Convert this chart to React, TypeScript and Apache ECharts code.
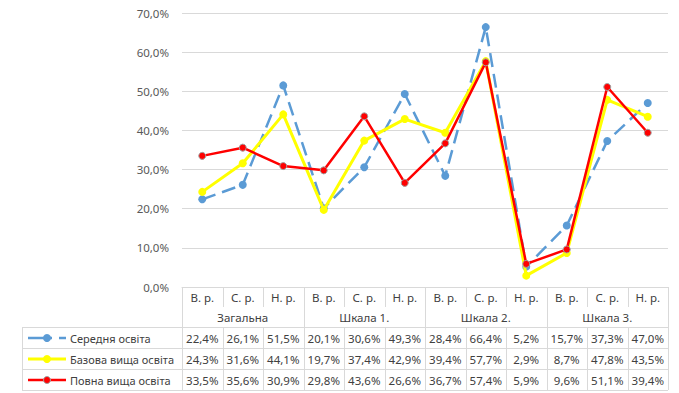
import React, { useEffect, useRef } from "react";
import * as echarts from "echarts";

const categories = ["В. р.", "С. р.", "Н. р.", "В. р.", "С. р.", "Н. р.", "В. р.", "С. р.", "Н. р.", "В. р.", "С. р.", "Н. р."];
const groups = ["Загальна", "Шкала 1.", "Шкала 2.", "Шкала 3."];
const seriesNames = ["Середня освіта", "Базова вища освіта", "Повна вища освіта"];
const serednia = [22.4, 26.1, 51.5, 20.1, 30.6, 49.3, 28.4, 66.4, 5.2, 15.7, 37.3, 47.0];
const bazova = [24.3, 31.6, 44.1, 19.7, 37.4, 42.9, 39.4, 57.7, 2.9, 8.7, 47.8, 43.5];
const povna = [33.5, 35.6, 30.9, 29.8, 43.6, 26.6, 36.7, 57.4, 5.9, 9.6, 51.1, 39.4];
const yTicks = { min: 0, max: 70, interval: 10 };

const fmt = (v: number) => v.toFixed(1).replace(".", ",") + "%";

const FONT = "'Noto Sans'";
const GRID_COLOR = "#d9d9d9";
const TEXT_COLOR = "#404040";

export default function App() {
  const ref = useRef<HTMLDivElement>(null);
  useEffect(() => {
    if (!ref.current) return;
    const chart = echarts.init(ref.current, undefined, { renderer: "svg" });
    const gridTop = 13;
    const gridBottom = 106;
    const gridLeft = 182;
    const gridRight = 11;
    chart.setOption({
      animation: false,
      grid: { left: gridLeft, right: gridRight, top: gridTop, bottom: gridBottom, containLabel: false },
      xAxis: {
        type: "category",
        data: categories.map((c, i) => i),
        boundaryGap: true,
        axisLine: { show: true, lineStyle: { color: GRID_COLOR, width: 1 } },
        axisTick: { show: false },
        axisLabel: { show: false },
      },
      yAxis: {
        type: "value",
        min: yTicks.min,
        max: yTicks.max,
        interval: yTicks.interval,
        axisLine: { show: false },
        axisTick: { show: false },
        splitLine: { lineStyle: { color: GRID_COLOR, width: 1 } },
        axisLabel: {
          formatter: (v: number) => fmt(v),
          color: "#595959",
          fontFamily: "Noto Sans",
          fontSize: 11.5,
          margin: 13,
        },
      },
      series: [
        {
          name: seriesNames[0],
          type: "line",
          data: serednia,
          symbol: "circle",
          symbolSize: 8,
          itemStyle: { color: "#5B9BD5" },
          lineStyle: { color: "#5B9BD5", width: 2.5, type: [14, 7] },
          z: 2,
        },
        {
          name: seriesNames[1],
          type: "line",
          data: bazova,
          symbol: "circle",
          symbolSize: 8,
          itemStyle: { color: "#FFFF00" },
          lineStyle: { color: "#FFFF00", width: 3 },
          z: 3,
        },
        {
          name: seriesNames[2],
          type: "line",
          data: povna,
          symbol: "circle",
          symbolSize: 7,
          itemStyle: { color: "#FF0000", borderColor: "#A0A0A0", borderWidth: 1 },
          lineStyle: { color: "#FF0000", width: 2.5 },
          z: 4,
        },
      ],
    });

    // Data table below the plot
    const allData = [serednia, bazova, povna];
    const colors = ["#5B9BD5", "#FFFF00", "#FF0000"];
    const n = categories.length;
    const centers = categories.map((_, i) => chart.convertToPixel({ xAxisIndex: 0 }, i) as number);
    const step = n > 1 ? centers[1] - centers[0] : 40;
    const bounds = [...centers.map((c) => c - step / 2), centers[n - 1] + step / 2];
    const tableTop = chart.convertToPixel({ yAxisIndex: 0 }, 0) as number;
    const catRowBottom = tableTop + 20;
    const groupRowBottom = tableTop + 40;
    const rowH = 21;
    const tableLeft = 22;
    const rightX = bounds[n];
    const lineStyle = { stroke: GRID_COLOR, lineWidth: 1 };
    const els: any[] = [];
    const crisp = (v: number) => Math.round(v) + 0.5;

    els.push({ type: "line", shape: { x1: tableLeft, y1: crisp(groupRowBottom), x2: rightX, y2: crisp(groupRowBottom) }, style: lineStyle });
    for (let r = 1; r <= 3; r++) {
      const y = crisp(groupRowBottom + r * rowH);
      els.push({ type: "line", shape: { x1: tableLeft, y1: y, x2: rightX, y2: y }, style: lineStyle });
    }
    els.push({ type: "line", shape: { x1: crisp(tableLeft), y1: groupRowBottom, x2: crisp(tableLeft), y2: groupRowBottom + 3 * rowH }, style: lineStyle });
    for (let i = 0; i <= n; i++) {
      const x = crisp(bounds[i]);
      const isGroup = i % 3 === 0;
      if (isGroup) {
        els.push({ type: "line", shape: { x1: x, y1: tableTop, x2: x, y2: groupRowBottom + 3 * rowH }, style: lineStyle });
      } else {
        els.push({ type: "line", shape: { x1: x, y1: tableTop, x2: x, y2: catRowBottom }, style: lineStyle });
        els.push({ type: "line", shape: { x1: x, y1: groupRowBottom, x2: x, y2: groupRowBottom + 3 * rowH }, style: lineStyle });
      }
    }
    const txt = (x: number, y: number, s: string, align = "center", size = 11.5) => ({
      type: "text",
      x,
      y,
      style: { text: s, fill: TEXT_COLOR, font: `${size}px ${FONT}`, align, verticalAlign: "middle" },
    });
    categories.forEach((c, i) => els.push(txt(centers[i], tableTop + 10.5, c)));
    groups.forEach((g, gi) => els.push(txt((bounds[gi * 3] + bounds[gi * 3 + 3]) / 2, tableTop + 30.5, g)));
    allData.forEach((arr, r) => {
      const yc = groupRowBottom + r * rowH + rowH / 2 + 0.5;
      arr.forEach((v, i) => els.push(txt(centers[i], yc, fmt(v))));
      els.push(txt(70, yc, seriesNames[r], "left", 11));
      if (r === 0) {
        els.push({ type: "line", shape: { x1: 28, y1: yc, x2: 52, y2: yc }, style: { stroke: colors[r], lineWidth: 2.5 } });
        els.push({ type: "line", shape: { x1: 59, y1: yc, x2: 66, y2: yc }, style: { stroke: colors[r], lineWidth: 2.5 } });
        els.push({ type: "circle", shape: { cx: 47, cy: yc, r: 4 }, style: { fill: colors[r] } });
      } else {
        els.push({ type: "line", shape: { x1: 28, y1: yc, x2: 66, y2: yc }, style: { stroke: colors[r], lineWidth: r === 1 ? 3 : 2.5 } });
        els.push({
          type: "circle",
          shape: { cx: 47, cy: yc, r: r === 2 ? 3.5 : 4 },
          style: { fill: colors[r], stroke: r === 2 ? "#A0A0A0" : undefined, lineWidth: r === 2 ? 1 : 0 },
        });
      }
    });
    chart.setOption({ graphic: { elements: els.map((e) => ({ ...e, silent: true })) } });

    return () => chart.dispose();
  }, []);
  return (
    <div
      ref={ref}
      style={{ position: "fixed", left: 0, top: 0, width: 679, height: 393, background: "#fff" }}
    />
  );
}
